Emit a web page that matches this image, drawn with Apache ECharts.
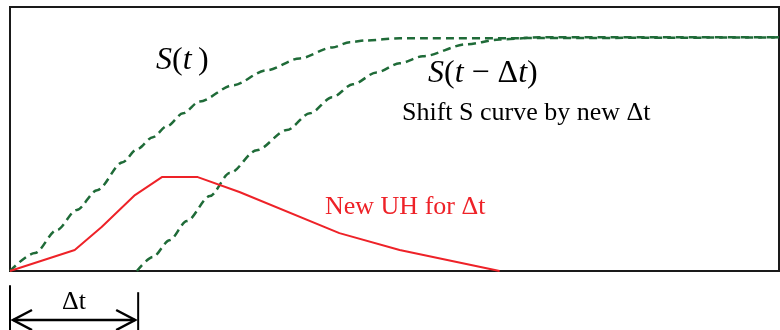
<!DOCTYPE html>
<html>
<head>
<meta charset="utf-8">
<script src="https://cdn.jsdelivr.net/npm/echarts@6/dist/echarts.min.js"></script>
<style>
  html, body { margin: 0; padding: 0; background: #fff; }
  #chart { width: 780px; height: 330px; }
</style>
</head>
<body>
<div id="chart"></div>
<script>
// time step of the shift (same units as the time axis)
const DT = 2;

// S curve S(t)
const tS = [0, 0.39, 0.73, 1.04, 1.36, 1.76, 1.98, 2.23, 2.45, 2.70, 2.96, 3.48, 4.00, 4.52, 5.03, 5.30, 5.56, 6.08, 12];
const sVals = [0, 0.077, 0.175, 0.261, 0.346, 0.466, 0.521, 0.573, 0.620, 0.675, 0.726, 0.795, 0.859, 0.910, 0.957, 0.979, 0.987, 0.996, 1.0];

// shifted S curve S(t - Δt)
const tShift = [1.98, 2.23, 2.49, 2.76, 3.12, 3.43, 3.85, 4.32, 4.68, 5.03, 5.35, 5.72, 6.08, 6.44, 7.12, 7.64, 8.26, 12];
const shiftVals = [0, 0.060, 0.132, 0.214, 0.321, 0.419, 0.517, 0.603, 0.675, 0.744, 0.799, 0.850, 0.889, 0.919, 0.970, 0.991, 1.0, 1.0];

// new unit hydrograph for Δt
const tUH = [0, 1.01, 1.43, 1.95, 2.37, 2.93, 3.58, 5.14, 6.08, 7.64];
const uhVals = [0, 0.09, 0.188, 0.325, 0.402, 0.402, 0.338, 0.162, 0.09, 0];

const pairs = (xs, ys) => xs.map((x, i) => [x, ys[i]]);

const green = '#1f6b38';
const red = '#ee2228';
const serif = '"Liberation Serif", "Times New Roman", serif';

const chart = echarts.init(document.getElementById('chart'));

const hiddenAxis = {
  axisLine: { show: false },
  axisTick: { show: false },
  axisLabel: { show: false },
  splitLine: { show: false }
};

const mathRich = {
  i: { fontFamily: serif, fontSize: 32, fontStyle: 'italic', fill: '#000' },
  n: { fontFamily: serif, fontSize: 32, fill: '#000' }
};

chart.setOption({
  animation: false,
  grid: [
    { left: 10, top: 7, right: 1, height: 264, show: true, borderColor: '#1a1a1a', borderWidth: 2 },
    { left: 10, top: 276, right: 1, bottom: 0 }
  ],
  xAxis: [
    Object.assign({ type: 'value', min: 0, max: 12, gridIndex: 0 }, hiddenAxis),
    Object.assign({ type: 'value', min: 0, max: 12, gridIndex: 1 }, hiddenAxis)
  ],
  yAxis: [
    Object.assign({ type: 'value', min: 0, max: 1.13, gridIndex: 0 }, hiddenAxis),
    Object.assign({ type: 'value', min: 0, max: 1, gridIndex: 1 }, hiddenAxis)
  ],
  graphic: [
    {
      type: 'text', left: 156, top: 45,
      style: { text: '{i|S}{n|(}{i|t}{n|\u2009)}', rich: mathRich }
    },
    {
      type: 'text', left: 428, top: 58,
      style: { text: '{i|S}{n|(}{i|t}{n| \u2212 \u0394}{i|t}{n|)}', rich: mathRich }
    },
    {
      type: 'text', left: 402, top: 100,
      style: { text: 'Shift S curve by new \u0394t', font: '26px ' + serif, fill: '#000' }
    },
    {
      type: 'text', left: 325, top: 194,
      style: { text: 'New UH for \u0394t', font: '26px ' + serif, fill: red }
    }
  ],
  series: [
    {
      name: 'S(t)',
      type: 'line',
      data: pairs(tS, sVals),
      showSymbol: false,
      smooth: 0.3,
      smoothMonotone: 'x',
      lineStyle: { color: green, width: 2.5, type: [8, 5] }
    },
    {
      name: 'S(t-Δt)',
      type: 'line',
      data: pairs(tShift, shiftVals),
      showSymbol: false,
      smooth: 0.3,
      smoothMonotone: 'x',
      lineStyle: { color: green, width: 2.5, type: [8, 5] }
    },
    {
      name: 'New UH',
      type: 'line',
      data: pairs(tUH, uhVals),
      showSymbol: false,
      lineStyle: { color: red, width: 2 }
    },
    {
      // Δt dimension arrow under the plot
      type: 'custom',
      xAxisIndex: 1,
      yAxisIndex: 1,
      clip: false,
      data: [[0, DT]],
      renderItem(params, api) {
        const a = api.coord([api.value(0), 0.185]);
        const b = api.coord([api.value(1), 0.185]);
        const leftTop = api.coord([api.value(0), 0.83]);
        const rightTop = api.coord([api.value(1), 0.7]);
        const bottom = api.coord([0, 0])[1];
        const ax = a[0] + 3, bx = b[0] - 3, y = a[1];
        const stroke = { stroke: '#000', lineWidth: 2.5, fill: null };
        return {
          type: 'group',
          children: [
            { type: 'line', shape: { x1: leftTop[0], y1: leftTop[1], x2: leftTop[0], y2: bottom }, style: { stroke: '#000', lineWidth: 2 } },
            { type: 'line', shape: { x1: rightTop[0], y1: rightTop[1], x2: rightTop[0], y2: bottom }, style: { stroke: '#000', lineWidth: 2 } },
            { type: 'line', shape: { x1: ax, y1: y, x2: bx, y2: y }, style: stroke },
            { type: 'polyline', shape: { points: [[ax + 19, y - 10], [ax, y], [ax + 19, y + 10]] }, style: stroke },
            { type: 'polyline', shape: { points: [[bx - 19, y - 10], [bx, y], [bx - 19, y + 10]] }, style: stroke },
            {
              type: 'text',
              style: {
                text: '\u0394t', x: (a[0] + b[0]) / 2, y: api.coord([0, 0.52])[1],
                align: 'center', verticalAlign: 'middle', font: '26px ' + serif, fill: '#000'
              }
            }
          ]
        };
      }
    }
  ]
});
</script>
</body>
</html>
